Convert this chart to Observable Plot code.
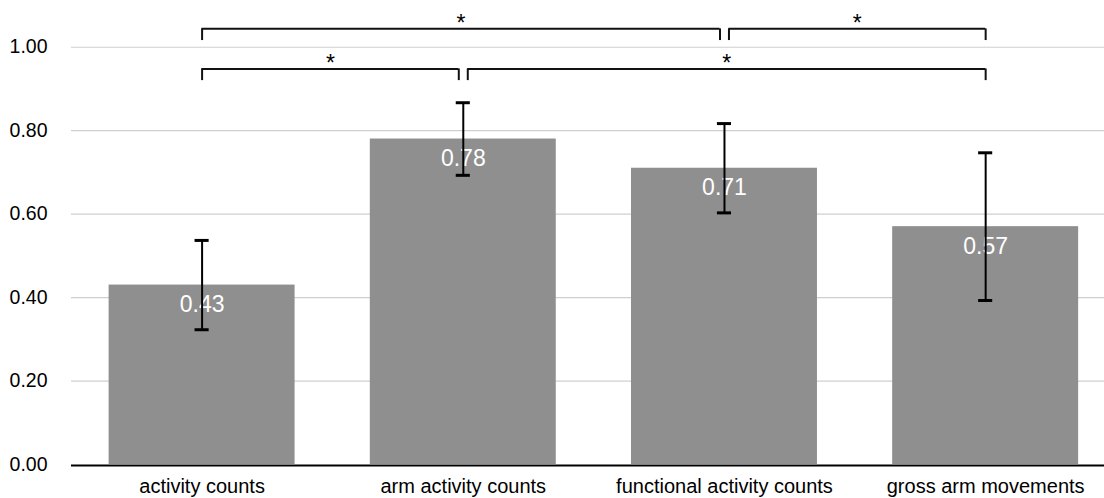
<!DOCTYPE html>
<html><head><meta charset="utf-8">
<script src="https://cdn.jsdelivr.net/npm/d3@7"></script>
<script src="https://cdn.jsdelivr.net/npm/@observablehq/plot@0.6"></script>
<style>body{margin:0;background:#fff}</style>
</head><body><div id="chart"></div>
<script>
// ---- data ----
const categories = ["activity counts", "arm activity counts", "functional activity counts", "gross arm movements"];
const means = [0.43, 0.78, 0.71, 0.57];
const errors = [0.107, 0.087, 0.107, 0.177];
const yTicks = [0, 0.2, 0.4, 0.6, 0.8, 1.0];
// significance comparisons (category index from -> to, tier 0 = lower, 1 = upper)
const compFrom = [0, 2, 0, 1];
const compTo = [2, 3, 1, 3];
const compTier = [1, 1, 0, 0];
const compLabel = ["*", "*", "*", "*"];

// ---- build tables ----
const bars = categories.map((c, i) => ({i, cat: c, mean: means[i], err: errors[i]}));
const halfBar = 0.356, halfCap = 0.027, inset = 0.0172, drop = 0.028;
const tierY = t => 0.948 + t * 0.096;
const comps = compFrom.map((a, k) => {
  const b = compTo[k], t = compTier[k];
  const leftShared = compTo.some((e, j) => j !== k && compTier[j] === t && e === a);
  const rightShared = compFrom.some((s, j) => j !== k && compTier[j] === t && s === b);
  const x1 = a + (leftShared ? inset : 0);
  const x2 = b - (rightShared ? inset : 0);
  return {x1, x2, y: tierY(t), label: compLabel[k]};
});

const font = "'Liberation Sans', Arial, Helvetica, sans-serif";
const chart = Plot.plot({
  width: 1104,
  height: 498,
  marginLeft: 71,
  marginRight: 0,
  marginTop: 5,
  marginBottom: 34,
  style: {fontFamily: font, color: "#000", background: "#fff", overflow: "visible"},
  x: {domain: [-0.5, 3.455]},
  y: {domain: [0, 1.1]},
  marks: [
    Plot.gridY(yTicks.filter(d => d > 0), {stroke: "#cfcfcf", strokeOpacity: 1, strokeWidth: 1.2}),
    Plot.rect(bars, {x1: d => d.i - halfBar, x2: d => d.i + halfBar, y1: 0, y2: "mean", fill: "#8f8f8f"}),
    Plot.ruleY([0], {stroke: "#000", strokeWidth: 2, dy: 1}),
    Plot.text(bars, {x: "i", y: "mean", text: d => d.mean.toFixed(2), fill: "#fff", fontSize: 23, dy: 19.5, lineAnchor: "middle"}),
    Plot.ruleX(bars, {x: "i", y1: d => d.mean - d.err, y2: d => d.mean + d.err, stroke: "#000", strokeWidth: 2}),
    Plot.ruleY(bars, {y: d => d.mean + d.err, x1: d => d.i - halfCap, x2: d => d.i + halfCap, stroke: "#000", strokeWidth: 3}),
    Plot.ruleY(bars, {y: d => d.mean - d.err, x1: d => d.i - halfCap, x2: d => d.i + halfCap, stroke: "#000", strokeWidth: 3}),
    Plot.ruleY(comps, {y: "y", x1: "x1", x2: "x2", stroke: "#111", strokeWidth: 2}),
    Plot.ruleX(comps, {x: "x1", y1: d => d.y - drop, y2: "y", stroke: "#111", strokeWidth: 2}),
    Plot.ruleX(comps, {x: "x2", y1: d => d.y - drop, y2: "y", stroke: "#111", strokeWidth: 2}),
    Plot.text(comps, {x: d => (d.x1 + d.x2) / 2, y: "y", text: "label", fontSize: 23, lineAnchor: "middle", dy: -5, fill: "#000"}),
    Plot.axisY({ticks: yTicks, tickFormat: d3.format(".2f"), tickSize: 0, tickPadding: 24, fontSize: 19.5, label: null, fill: "#000"}),
    Plot.axisX({ticks: [0, 1, 2, 3], tickFormat: i => categories[i], tickSize: 0, tickPadding: 14, fontSize: 20, label: null, fill: "#000"})
  ]
});
document.getElementById("chart").appendChild(chart);
</script>
</body></html>
